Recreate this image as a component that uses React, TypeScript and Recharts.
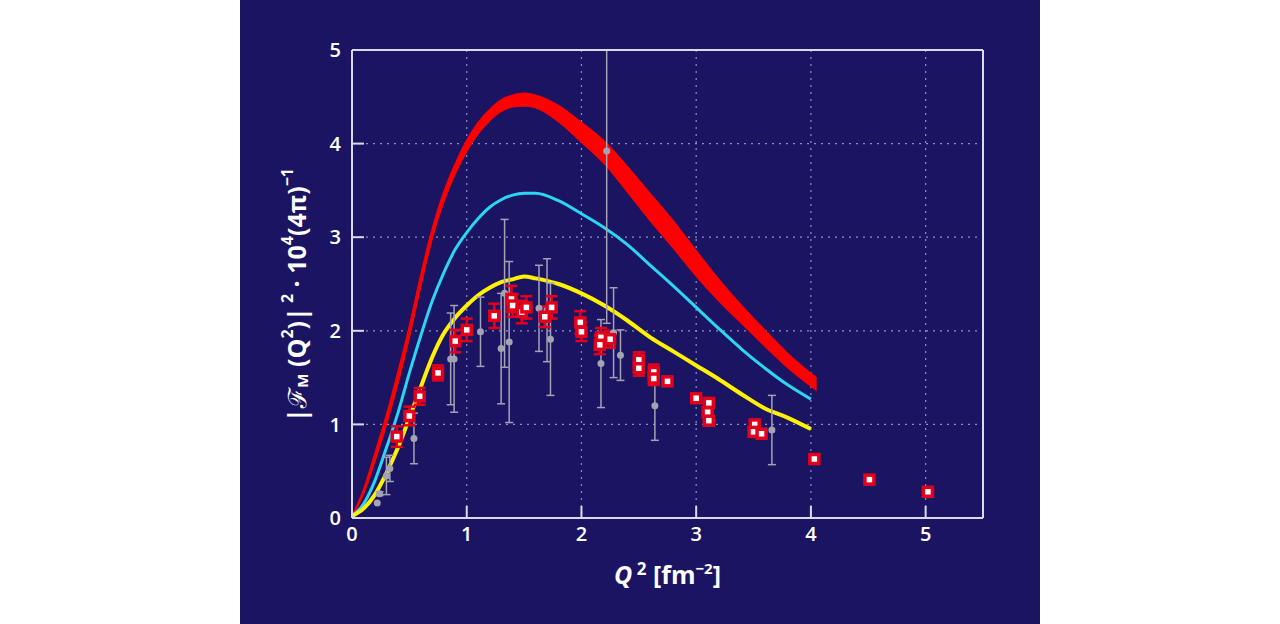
import {
  Area,
  CartesianGrid,
  ComposedChart,
  ErrorBar,
  Label,
  Line,
  Scatter,
  XAxis,
  YAxis,
} from 'recharts';

// theory curves
const bandQ = [0, 0.1, 0.2, 0.3, 0.4, 0.5, 0.6, 0.7, 0.8, 0.9, 1.0, 1.1, 1.2, 1.3, 1.4, 1.5, 1.6, 1.8, 2.0, 2.2, 2.4, 2.6, 2.8, 3.0, 3.2, 3.4, 3.6, 3.8, 4.05];
const bandUpper = [0.03, 0.31, 0.7, 1.11, 1.57, 2.06, 2.61, 3.1, 3.49, 3.79, 4.04, 4.23, 4.37, 4.47, 4.52, 4.54, 4.52, 4.41, 4.23, 4.03, 3.76, 3.47, 3.18, 2.86, 2.55, 2.27, 2.01, 1.76, 1.5];
const bandLower = [0.01, 0.25, 0.6, 0.99, 1.43, 1.92, 2.47, 2.98, 3.37, 3.67, 3.91, 4.1, 4.24, 4.34, 4.39, 4.4, 4.38, 4.23, 4.01, 3.78, 3.48, 3.17, 2.88, 2.58, 2.31, 2.07, 1.83, 1.6, 1.36];

const curveQ = [0, 0.1, 0.2, 0.3, 0.4, 0.5, 0.6, 0.7, 0.8, 0.9, 1.0, 1.1, 1.2, 1.3, 1.4, 1.5, 1.6, 1.8, 2.0, 2.2, 2.4, 2.6, 2.8, 3.0, 3.2, 3.4, 3.6, 3.8, 4.0];
const cyanValues = [0.02, 0.15, 0.4, 0.75, 1.12, 1.55, 1.95, 2.32, 2.62, 2.87, 3.05, 3.2, 3.32, 3.4, 3.45, 3.47, 3.47, 3.39, 3.25, 3.1, 2.92, 2.7, 2.48, 2.25, 2.02, 1.8, 1.6, 1.42, 1.27];
const yellowValues = [0.02, 0.1, 0.25, 0.48, 0.75, 1.07, 1.4, 1.72, 1.97, 2.14, 2.27, 2.38, 2.46, 2.52, 2.55, 2.58, 2.56, 2.5, 2.4, 2.27, 2.11, 1.93, 1.78, 1.63, 1.48, 1.32, 1.17, 1.07, 0.95];

// new measurement (red squares)
const newQ = [0.39, 0.5, 0.59, 0.75, 0.9, 1.0, 1.24, 1.39, 1.4, 1.48, 1.52, 1.68, 1.74, 1.99, 2.0, 2.17, 2.16, 2.25, 2.5, 2.5, 2.63, 2.63, 2.75, 3.0, 3.11, 3.1, 3.11, 3.51, 3.5, 3.57, 4.03, 4.51, 5.02];
const newF = [0.87, 1.09, 1.3, 1.55, 1.89, 2.01, 2.16, 2.34, 2.27, 2.2, 2.25, 2.15, 2.25, 2.09, 1.99, 1.93, 1.85, 1.91, 1.69, 1.6, 1.56, 1.49, 1.46, 1.28, 1.23, 1.13, 1.04, 1.0, 0.92, 0.9, 0.63, 0.41, 0.28];
const newErr = [0.11, 0.1, 0.09, 0.08, 0.12, 0.12, 0.13, 0.14, 0.12, 0.12, 0.12, 0.11, 0.12, 0.12, 0.1, 0.1, 0.1, 0.09, 0.08, 0.08, 0.08, 0.07, 0, 0, 0, 0, 0, 0, 0, 0, 0, 0, 0];

// older data (grey dots)
const oldQ = [0.22, 0.24, 0.3, 0.33, 0.54, 0.86, 0.89, 1.12, 1.3, 1.33, 1.37, 1.63, 1.7, 1.73, 2.17, 2.22, 2.28, 2.34, 2.64, 3.66];
const oldF = [0.16, 0.26, 0.45, 0.53, 0.85, 1.7, 1.7, 1.99, 1.81, 2.4, 1.88, 2.24, 2.22, 1.91, 1.65, 3.92, 1.98, 1.74, 1.2, 0.94];
const oldErr: (number | [number, number])[] = [0, 0.02, 0.2, 0.14, 0.27, 0.49, 0.57, 0.37, 0.59, 0.79, 0.86, 0.46, 0.55, 0.6, 0.47, [1.84, 1.08], 0.48, 0.27, 0.37, 0.37];

const xTicks = [0, 1, 2, 3, 4, 5];
const yTicks = [0, 1, 2, 3, 4, 5];

const band = bandQ.map((q, i) => ({ q, range: [bandLower[i], bandUpper[i]] }));
const cyan = curveQ.map((q, i) => ({ q, v: cyanValues[i] }));
const yellow = curveQ.map((q, i) => ({ q, v: yellowValues[i] }));
const newData = newQ.map((q, i) => ({ q, v: newF[i], err: newErr[i] }));
const oldData = oldQ.map((q, i) => ({ q, v: oldF[i], err: oldErr[i] }));

const FRAME = '#d9d9f0';
const FONT = '"Open Sans", "Noto Sans", sans-serif';

const tickStyle = { fill: '#ffffff', fontSize: 20, fontWeight: 600, fontFamily: FONT };

function RedSquare(props: any) {
  const { cx, cy } = props;
  if (cx == null || cy == null) return null;
  return <rect x={cx - 4.5} y={cy - 4.5} width={9} height={9} fill="#ffffff" stroke="#e4001b" strokeWidth={3.5} />;
}

function GreyDot(props: any) {
  const { cx, cy } = props;
  if (cx == null || cy == null) return null;
  return <circle cx={cx} cy={cy} r={3.5} fill="#a3a3b4" />;
}

function XTitle(props: any) {
  const vb = props.viewBox || { x: 0, y: 0, width: 0 };
  return (
    <text
      x={vb.x + vb.width / 2}
      y={vb.y + 66}
      textAnchor="middle"
      fill="#ffffff"
      fontFamily={FONT}
      fontWeight={700}
      fontSize={25}
    >
      <tspan fontStyle="italic">Q</tspan>
      <tspan fontSize={17} dy={-9}> 2</tspan>
      <tspan dy={9}> [fm</tspan>
      <tspan fontSize={15} dy={-10}>−2</tspan>
      <tspan dy={10}>]</tspan>
    </text>
  );
}

function YTitle(props: any) {
  const vb = props.viewBox || { x: 0, y: 0, height: 0 };
  const cx = vb.x + 4;
  const cy = vb.y + vb.height / 2 + 11;
  return (
    <text
      x={cx}
      y={cy}
      transform={`rotate(-90 ${cx} ${cy})`}
      textAnchor="middle"
      dominantBaseline="central"
      fill="#ffffff"
      fontFamily={FONT}
      fontWeight={700}
      fontSize={25}
    >
      <tspan>|ℱ</tspan>
      <tspan fontSize={15} dy={6}>M</tspan>
      <tspan dy={-6}> (Q</tspan>
      <tspan fontSize={16} dy={-9}>2</tspan>
      <tspan dy={9}>)|</tspan>
      <tspan fontSize={16} dy={-9}> 2</tspan>
      <tspan dy={9}> · 10</tspan>
      <tspan fontSize={16} dy={-9}>4</tspan>
      <tspan dy={9}>(4π)</tspan>
      <tspan fontSize={16} dy={-9}>−1</tspan>
    </text>
  );
}

export default function App() {
  return (
    <div style={{ position: 'absolute', left: 240, top: 0, width: 800, height: 624, background: '#1b1463' }}>
      <ComposedChart width={800} height={624} margin={{ top: 49, right: 56, bottom: 76, left: 52 }}>
        <CartesianGrid stroke="#9090c4" strokeDasharray="2 5" strokeWidth={1.2} />
        <XAxis
          dataKey="q"
          type="number"
          domain={[0, 5.5]}
          ticks={xTicks}
          allowDuplicatedCategory={false}
          height={30}
          stroke={FRAME}
          strokeWidth={2}
          tickSize={-12}
          tickMargin={21}
          tickLine={{ stroke: FRAME, strokeWidth: 2 }}
          tick={tickStyle}
        >
          <Label content={XTitle} />
        </XAxis>
        <XAxis
          xAxisId="top"
          orientation="top"
          type="number"
          domain={[0, 5.5]}
          ticks={xTicks}
          height={1}
          stroke={FRAME}
          strokeWidth={2}
          tickSize={-12}
          tickLine={{ stroke: FRAME, strokeWidth: 2 }}
          tick={false}
        />
        <YAxis
          type="number"
          domain={[0, 5]}
          ticks={yTicks}
          width={60}
          stroke={FRAME}
          strokeWidth={2}
          tickSize={-12}
          tickMargin={23}
          tickLine={{ stroke: FRAME, strokeWidth: 2 }}
          tick={tickStyle}
        >
          <Label content={YTitle} />
        </YAxis>
        <YAxis
          yAxisId="right"
          orientation="right"
          type="number"
          domain={[0, 5]}
          ticks={yTicks}
          width={1}
          stroke={FRAME}
          strokeWidth={2}
          tickSize={-12}
          tickLine={{ stroke: FRAME, strokeWidth: 2 }}
          tick={false}
        />
        <Area
          data={band}
          dataKey="range"
          type="monotone"
          stroke="#ff0000"
          strokeWidth={1}
          fill="#ff0000"
          fillOpacity={1}
          isAnimationActive={false}
        />
        <Line
          data={cyan}
          dataKey="v"
          type="monotone"
          stroke="#2ad6f2"
          strokeWidth={3}
          dot={false}
          isAnimationActive={false}
        />
        <Line
          data={yellow}
          dataKey="v"
          type="monotone"
          stroke="#fff200"
          strokeWidth={4}
          dot={false}
          isAnimationActive={false}
        />
        <Scatter data={oldData} dataKey="v" shape={GreyDot} isAnimationActive={false}>
          <ErrorBar dataKey="err" direction="y" width={4} stroke="#a3a3b4" strokeWidth={1.5} />
        </Scatter>
        <Scatter data={newData} dataKey="v" shape={RedSquare} isAnimationActive={false}>
          <ErrorBar dataKey="err" direction="y" width={6} stroke="#e4001b" strokeWidth={2.5} />
        </Scatter>
      </ComposedChart>
    </div>
  );
}
